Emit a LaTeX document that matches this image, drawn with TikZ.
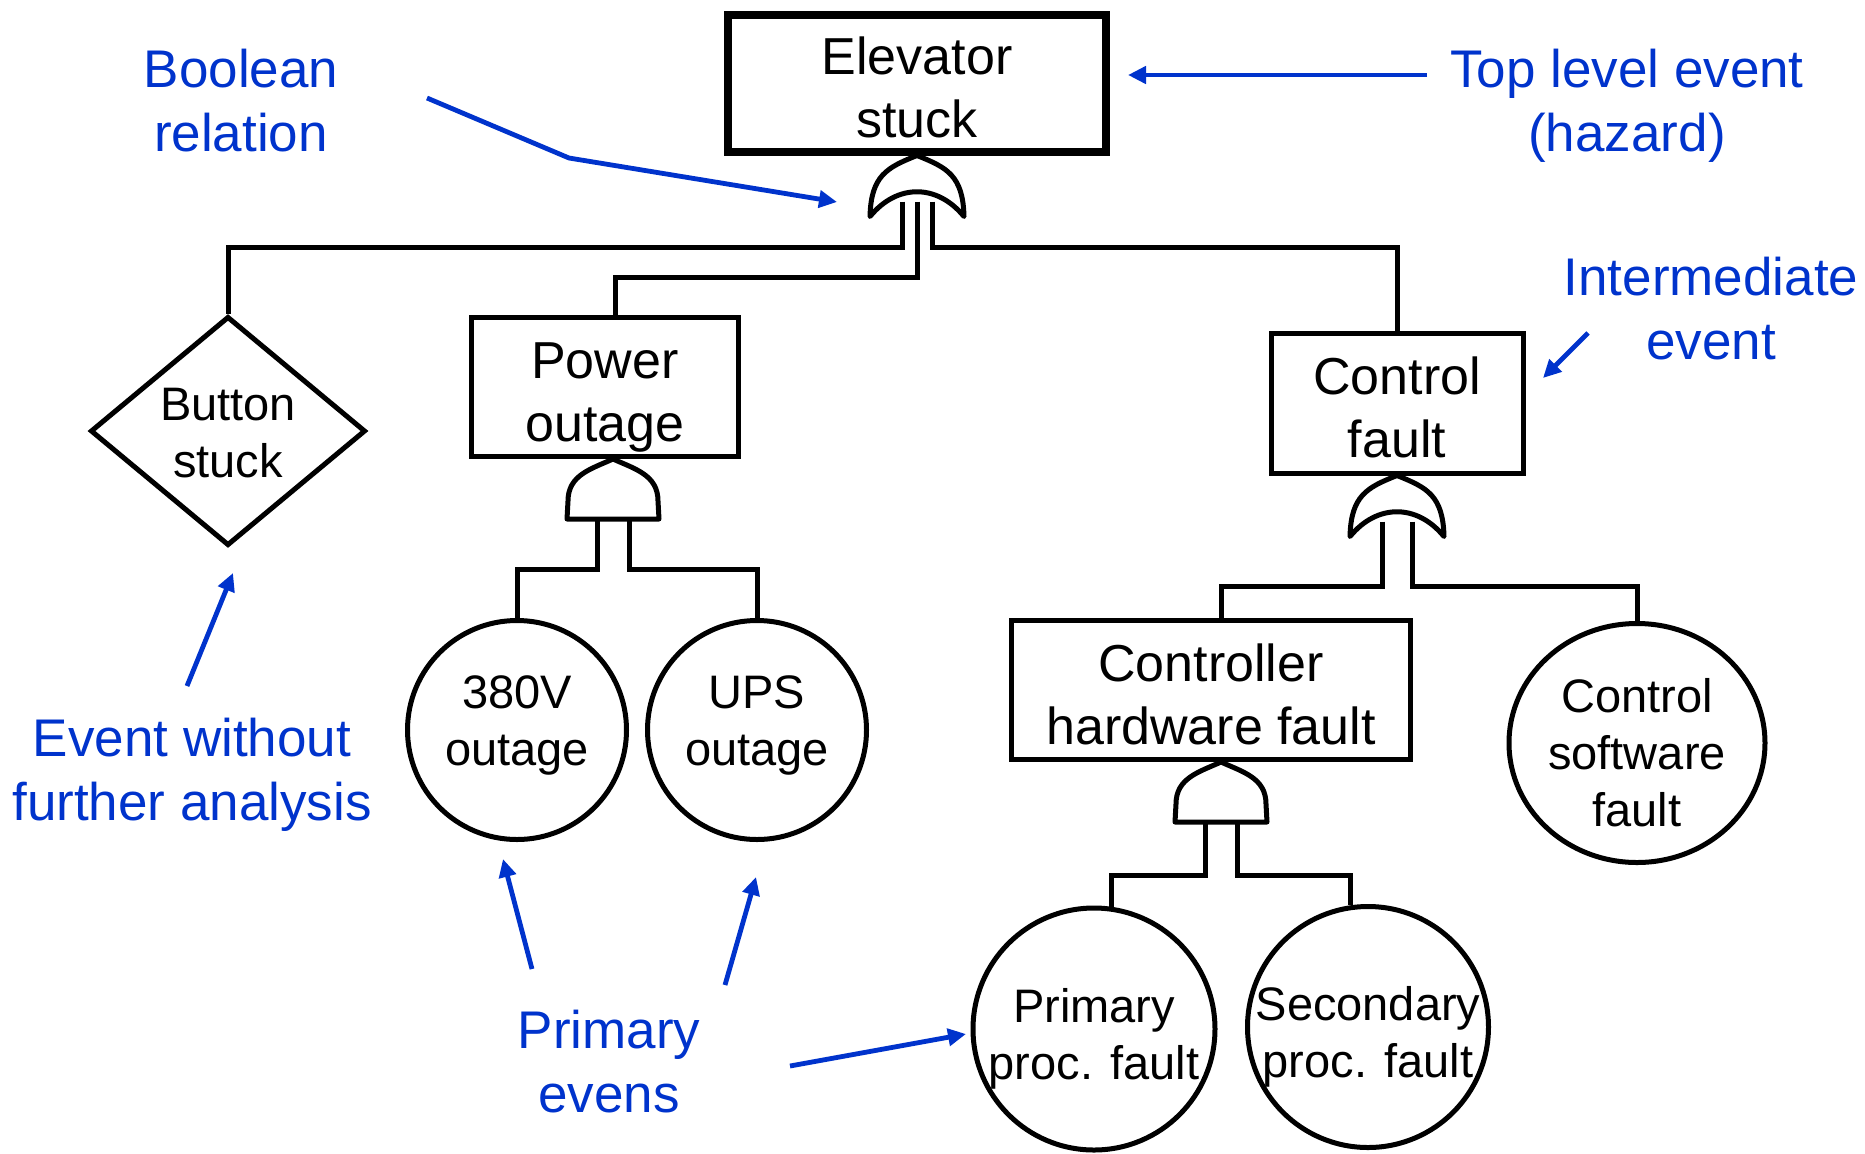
\documentclass[tikz,border=0pt]{standalone}
\usepackage{fontspec}
\setmainfont{Liberation Sans}
\usetikzlibrary{calc}
\usetikzlibrary{shapes.geometric}
\usetikzlibrary{arrows.meta}

\definecolor{noteblue}{RGB}{0,51,204}

% text block with fixed top and bottom extent, so it sits like in the slide
\newcommand{\padtext}[3]{\rule{0pt}{#1}#3\rule[-#2]{0pt}{0pt}}

\tikzset{
  wire/.style={line width=2.5pt},
  event/.style={draw, line width=2.5pt, minimum height=69.5pt, inner sep=0pt, align=center, font=\fontsize{26}{31.5}\selectfont},
  basic/.style={draw, circle, line width=2.5pt, inner sep=-4pt, align=center, font=\fontsize{23.5}{28.5}\selectfont},
  undev/.style={draw, diamond, line width=2.5pt, inner sep=0pt, shape aspect=1.2, minimum width=136pt, minimum height=113pt, align=center, font=\fontsize{23.5}{28.5}\selectfont},
  note/.style={text=noteblue, align=center, font=\fontsize{26.5}{32}\selectfont},
  pointer/.style={draw=noteblue, line width=2.4pt, -{Triangle[length=9pt,width=8.5pt]}},
  orgate/.pic={
    \draw[line width=2.5pt, line join=round] (0,0) .. controls (-30,12) and (-46,20) .. (-47,61)
      .. controls (-20,28) and (20,28) .. (47,61) .. controls (46,20) and (30,12) .. (0,0) -- cycle;
    \coordinate (-l) at (-15,46);
    \coordinate (-m) at (0,46);
    \coordinate (-r) at (15,46);
  },
  andgate/.pic={
    \draw[line width=2.5pt, line join=round] (0,0) .. controls (-22,10) and (-45,16) .. (-45,42) -- (-46,60)
      -- (46,60) -- (45,42) .. controls (45,16) and (22,10) .. (0,0) -- cycle;
    \coordinate (-l) at (-16,60);
    \coordinate (-r) at (16,60);
  }
}

\begin{document}
\begin{tikzpicture}[x=0.5pt, y=-0.5pt]
\useasboundingbox (0,0) rectangle (1865,1153);

% events
\node[event, line width=4pt, minimum width=189pt, minimum height=68.5pt] (es) at (917,83) {\padtext{29.5pt}{7pt}{Elevator\\stuck}};
\node[undev] (bs) at (228,431) {\padtext{23.5pt}{6pt}{Button\\stuck}};
\node[event, minimum width=133.5pt] (po) at (605,387) {\padtext{30pt}{7pt}{Power\\outage}};
\node[event, minimum width=126pt, minimum height=70pt] (cf) at (1397,403) {\padtext{30pt}{7pt}{Control\\fault}};
\node[event, minimum width=199.5pt] (chf) at (1211,690) {\padtext{30pt}{7pt}{Controller\\hardware fault}};

% primary events
\node[basic, minimum size=109.5pt] (vo) at (517,730) {\padtext{17.9pt}{11pt}{380V\\outage}};
\node[basic, minimum size=109.5pt] (uo) at (757,730) {\padtext{17.9pt}{11pt}{UPS\\outage}};
\node[basic, ellipse, inner sep=-8pt, minimum width=128pt, minimum height=119.5pt] (csf) at (1637,743) {\padtext{32.7pt}{6pt}{Control\\software\\fault}};
\node[basic, minimum size=121pt] (ppf) at (1094,1029) {\padtext{27.7pt}{6pt}{Primary\\proc. fault}};
\node[basic, minimum size=120.5pt] (spf) at (1368,1027) {\padtext{28pt}{6pt}{Secondary\\proc. fault}};

% gates
\pic (g1) at (es.south) {orgate};
\pic (g2) at ($(po.south)+(8,0)$) {andgate};
\pic (g3) at (cf.south) {orgate};
\pic (g4) at ($(chf.south)+(10,0)$) {andgate};

\draw[wire] (g1-l) -- ++(0,46) -| (bs.north);
\draw[wire] (g1-m) -- ++(0,76) -| ($(po.north)+(10,0)$);
\draw[wire] (g1-r) -- ++(0,46) -| (cf.north);
\draw[wire] (g2-l) -- ++(0,50) -| (vo.north);
\draw[wire] (g2-r) -- ++(0,50) -| (uo.north);
\draw[wire] (g3-l) -- ++(0,65) -| ($(chf.north)+(10,0)$);
\draw[wire] (g3-r) -- ++(0,65) -| (csf.north);
\draw[wire] (g4-l) -- ++(0,53) -| (ppf.82);
\draw[wire] (g4-r) -- ++(0,53) -| (spf.98);

% notes
\node[note] (nbool) at (241,101) {Boolean\\relation};
\node[note] (ntop) at (1627,106) {Top level event\\(hazard)};
\node[note] (nint) at (1711,309) {Intermediate\\event};
\node[note] (nund) at (192,775) {Event without\\further analysis};
\node[note] (nprim) at (609,1062) {Primary\\evens};

\coordinate (p1) at (427,98);
\coordinate (p1b) at (569,158);
\coordinate (p1e) at (837,202);
\coordinate (p2) at (1427,75);
\coordinate (p2e) at (1128,75);
\coordinate (p3) at (1588,333);
\coordinate (p3e) at (1543,378);
\coordinate (p4) at (187,686);
\coordinate (p4e) at (233,573);
\coordinate (p5) at (532,969);
\coordinate (p5e) at (503,859);
\coordinate (p6) at (725,985);
\coordinate (p6e) at (756,877);
\coordinate (p7) at (790,1066);
\coordinate (p7e) at (966,1034);

\draw[pointer] (p1) -- (p1b) -- (p1e);
\draw[pointer] (p2) -- (p2e);
\draw[pointer] (p3) -- (p3e);
\draw[pointer] (p4) -- (p4e);
\draw[pointer] (p5) -- (p5e);
\draw[pointer] (p6) -- (p6e);
\draw[pointer] (p7) -- (p7e);

\end{tikzpicture}
\end{document}
